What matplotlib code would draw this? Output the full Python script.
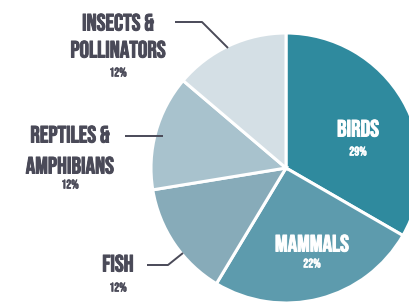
import matplotlib
matplotlib.use("Agg")
import matplotlib.pyplot as plt
import matplotlib.patheffects as pe

categories = ["BIRDS", "MAMMALS", "FISH", "REPTILES &\nAMPHIBIANS", "INSECTS &\nPOLLINATORS"]
values = [29, 22, 12, 12, 12]
pct_labels = ["29%", "22%", "12%", "12%", "12%"]
colors = ["#2f8a9e", "#5d9bad", "#87abb9", "#a8c2cd", "#d4dfe5"]

TXT = "#4a4a58"
FONT = ["Bebas Neue", "DejaVu Sans"]

fig = plt.figure(figsize=(4.10, 3.07), dpi=100)
ax = fig.add_axes([0, 0, 1, 1])

# pie drawn with y-down axis: counterclock=True renders clockwise visually
ax.pie(values, colors=colors, startangle=-90, counterclock=True,
       center=(286, 168), radius=135, frame=True,
       wedgeprops=dict(edgecolor="white", linewidth=2.2))
ax.set_xlim(0, 410)
ax.set_ylim(307, 0)
ax.set_aspect("equal")
ax.axis("off")


def bold(c, w=0.7):
    return [pe.withStroke(linewidth=w, foreground=c)]


def big(c):
    return dict(family=FONT, fontsize=17, ha="center", va="center", color=c,
                path_effects=bold(c))


def small(c):
    return dict(family=FONT, fontsize=9, ha="center", va="center", color=c,
                path_effects=bold(c, 0.4))


# inside labels
ax.text(358, 128, categories[0], **big("white"))
ax.text(358, 151, pct_labels[0], **small("white"))
ax.text(312, 243, categories[1], **big("white"))
ax.text(312, 263, pct_labels[1], **small("white"))

# outside labels
ax.text(118, 263, categories[2], **big(TXT))
ax.text(118, 287, pct_labels[2], **small(TXT))

r1, r2 = categories[3].split("\n")
ax.text(70, 134, r1, **big(TXT))
ax.text(70, 165, r2, **big(TXT))
ax.text(70, 184, pct_labels[3], **small(TXT))

i1, i2 = categories[4].split("\n")
ax.text(118, 22, i1, **big(TXT))
ax.text(118, 49, i2, **big(TXT))
ax.text(118, 72, pct_labels[4], **small(TXT))

# leader lines
lw = 1.4
ax.plot([175, 202, 228], [22, 22, 48], color=TXT, lw=lw, solid_capstyle="butt")
ax.plot([125, 163], [136, 136], color=TXT, lw=lw, solid_capstyle="butt")
ax.plot([147, 168, 183], [265, 265, 253], color=TXT, lw=lw, solid_capstyle="butt")

fig.savefig("out.png", dpi=100, facecolor="white")
